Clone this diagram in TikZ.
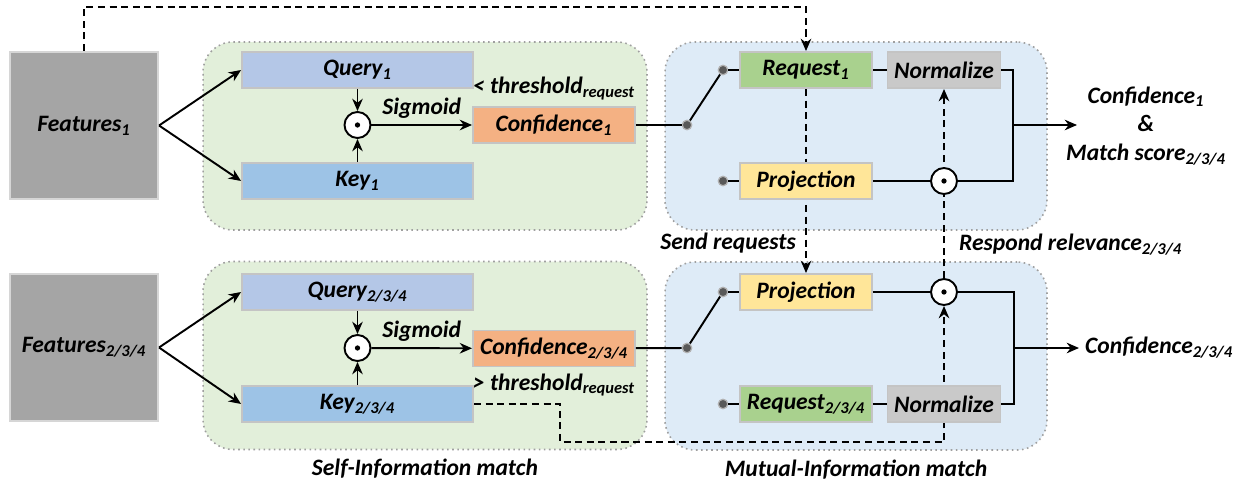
\documentclass[tikz,border=0pt]{standalone}
\usepackage{fontspec}
\setmainfont{Carlito}
\usetikzlibrary{positioning,calc,arrows.meta}
\definecolor{selfbg}{HTML}{E2EFDA}
\definecolor{mutbg}{HTML}{DEEBF7}
\definecolor{featcol}{HTML}{A5A5A5}
\definecolor{qcol}{HTML}{B4C7E7}
\definecolor{kcol}{HTML}{9DC3E6}
\definecolor{ccol}{HTML}{F4B183}
\definecolor{rcol}{HTML}{A9D18E}
\definecolor{ncol}{HTML}{C9C9C9}
\definecolor{pcol}{HTML}{FFE699}
\definecolor{edgecol}{HTML}{C4C4C4}
\definecolor{dotcol}{HTML}{595959}
\newcommand{\figfont}{\fontsize{13.4}{16.5}\selectfont\bfseries\itshape}
\pgfdeclarelayer{back}
\pgfdeclarelayer{mid}
\pgfsetlayers{back,mid,main}
\tikzset{region/.style={draw=gray!75, dotted, line width=0.9pt, rounded corners=17pt, minimum height=3.76cm}}
\tikzset{feat/.style={draw=edgecol!70, line width=1.2pt, fill=featcol, minimum width=2.96cm, minimum height=2.94cm, font=\figfont}}
\tikzset{blk/.style={draw=edgecol, line width=1.1pt, minimum height=0.72cm, inner sep=0pt, font=\figfont}}
\tikzset{prod/.style={circle, draw, line width=1.1pt, fill=white, minimum size=0.52cm, inner sep=0pt, path picture={\fill[black] (path picture bounding box.center) circle (1.5pt);}}}
\tikzset{sw/.style={circle, fill=dotcol, draw=gray!60, line width=0.7pt, minimum size=0.19cm, inner sep=0pt}}
\tikzset{lbl/.style={font=\figfont}}
\tikzset{ln/.style={draw, line width=1.1pt}}
\tikzset{arr/.style={draw, line width=1.1pt, -{Stealth[length=7pt,width=6pt]}}}
\tikzset{dsh/.style={draw, line width=1.1pt, dash pattern=on 4pt off 2.6pt}}
\begin{document}
\begin{tikzpicture}[x=0.02cm, y=-0.02cm]
\useasboundingbox (0,0) rectangle (1247,487);
% panels
\begin{pgfonlayer}{back}
\node[region, fill=selfbg, minimum width=8.88cm] (selfA) at (425,136) {};
\node[region, fill=selfbg, minimum width=8.88cm] (selfB) at (425,355.5) {};
\node[region, fill=mutbg, minimum width=7.64cm] (mutA) at (856,136) {};
\node[region, fill=mutbg, minimum width=7.64cm] (mutB) at (856,356) {};
\end{pgfonlayer}
\node[lbl, below=0.05cm of selfB] (selfT) {Self-Information match};
\node[lbl, below=0.05cm of mutB] (mutT) {Mutual-Information match};
%
% first branch
\node[feat] (F1) at (84,125.5) {Features\textsubscript{1}};
\node[blk, fill=qcol, minimum width=4.62cm] (Q1) at (357.5,70) {Query\textsubscript{1}};
\node[blk, fill=kcol, minimum width=4.62cm] (K1) at (357.5,181) {Key\textsubscript{1}};
\node[prod] (M1) at (357.5,125) {};
\node[blk, fill=ccol, minimum width=3.24cm] (C1) at (554,125) {Confidence\textsubscript{1}};
\node[lbl, above=0pt of C1] (th1) {< threshold\textsubscript{request}};
\node[sw] (s1) at (687,125) {};
\node[sw] (s1a) at (723,70) {};
\node[sw] (s1b) at (723,181) {};
\node[blk, fill=rcol, minimum width=2.64cm] (R1) at (806,70) {Request\textsubscript{1}};
\node[blk, fill=ncol, minimum width=2.26cm] (N1) at (944,70) {Normalize};
\node[blk, fill=pcol, minimum width=2.64cm] (J1) at (806,181) {Projection};
\node[prod] (P1) at (944,181) {};
\coordinate (j1) at (1013,125);
\coordinate (o1) at (1077,125);
\node[lbl, align=center] (out1) at (1146,126) {Confidence\textsubscript{1}\\\&\\Match score\textsubscript{2/3/4}};
%
% second branch
\node[feat] (F2) at (84,347.5) {Features\textsubscript{2/3/4}};
\node[blk, fill=qcol, minimum width=4.62cm] (Q2) at (357.5,292) {Query\textsubscript{2/3/4}};
\node[blk, fill=kcol, minimum width=4.62cm] (K2) at (357.5,404) {Key\textsubscript{2/3/4}};
\node[prod] (M2) at (357.5,348) {};
\node[blk, fill=ccol, minimum width=3.24cm] (C2) at (554,348.5) {Confidence\textsubscript{2/3/4}};
\node[lbl, below=0pt of C2] (th2) {> threshold\textsubscript{request}};
\node[sw] (s2) at (687,348) {};
\node[sw] (s2a) at (723,292) {};
\node[sw] (s2b) at (723,404) {};
\node[blk, fill=pcol, minimum width=2.64cm] (J2) at (806,292) {Projection};
\node[blk, fill=rcol, minimum width=2.64cm] (R2) at (806,404) {Request\textsubscript{2/3/4}};
\node[blk, fill=ncol, minimum width=2.26cm] (N2) at (944,404) {Normalize};
\node[prod] (P2) at (944,292) {};
\coordinate (j2) at (1014,348);
\node[lbl, anchor=west] (out2) at (1079,348) {Confidence\textsubscript{2/3/4}};
%
\node[lbl, anchor=east] (sendT) at (802,243) {Send requests};
\node[lbl, anchor=west] (respT) at (953,245) {Respond relevance\textsubscript{2/3/4}};
%
% connections
\foreach \b in {1,2} {
  \draw[arr] (F\b.east) -- (Q\b.west);
  \draw[arr] (F\b.east) -- (K\b.west);
  \draw[arr] (Q\b) -- (M\b);
  \draw[arr] (K\b) -- (M\b);
  \draw[arr] (M\b) -- node[lbl, above]{Sigmoid} (C\b);
  \draw[ln] (C\b) -- (s\b);
  \draw[ln] (s\b) -- (s\b a);
  \draw[ln] (R\b) -- (N\b);
  \draw[ln] (J\b) -- (P\b);
}
\draw[ln] (s1a) -- (R1);
\draw[ln] (s1b) -- (J1);
\draw[ln] (s2a) -- (J2);
\draw[ln] (s2b) -- (R2);
\draw[ln] (N1.east) -| (j1) |- (P1.east);
\draw[ln] (P2.east) -| (j2) |- (N2.east);
\draw[arr] (j1) -- (o1);
\draw[arr] (j2) -- (out2.west);
%
\begin{pgfonlayer}{mid}
\draw[dsh, -{Stealth[length=7pt,width=6pt]}] (F1.north) -- ++(0,-44) -| (R1.north);
\draw[dsh, -{Stealth[length=7pt,width=6pt]}] (R1.south) -- (J2.north);
\draw[dsh, -{Stealth[length=7pt,width=6pt]}] (P2.north) -- (N1.south);
\draw[dsh, -{Stealth[length=7pt,width=6pt]}] (K2.east) -- ++(86,0) -- ++(0,38) -| (P2.south);
\end{pgfonlayer}
\end{tikzpicture}
\end{document}
